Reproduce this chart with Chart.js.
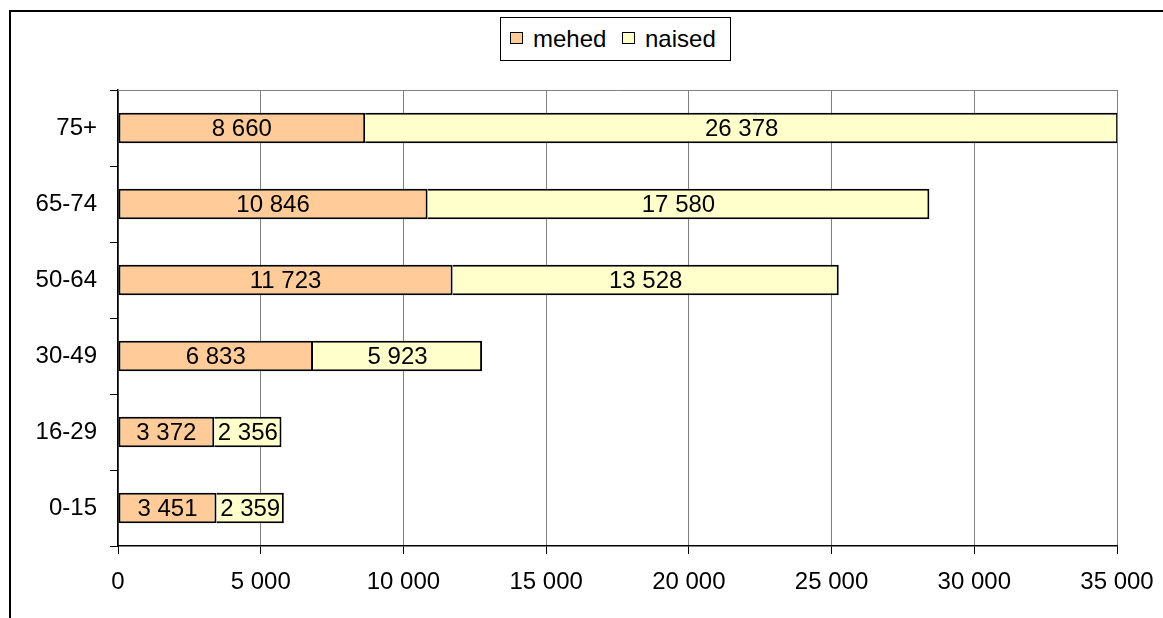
<!DOCTYPE html>
<html lang="et">
<head>
  <meta charset="UTF-8">
  <title>Vanuserühmad</title>
  <script src="https://cdn.jsdelivr.net/npm/chart.js"></script>
  <style>
    body {
      margin: 0;
      background: #fff;
      font-family: 'Liberation Sans', Arial, sans-serif;
      overflow: hidden;
    }
    .frame {
      position: absolute;
      left: 9px;
      top: 10px;
      width: 1200px;
      height: 700px;
      border: 2px solid #000;
    }
    .legend {
      position: absolute;
      left: 500px;
      top: 17px;
      width: 229px;
      height: 42px;
      border: 1px solid #000;
      background: #fff;
      font-size: 24px;
      color: #000;
      z-index: 2;
    }
    .legend .box {
      position: absolute;
      top: 14px;
      width: 11px;
      height: 10px;
      border: 1.5px solid #000;
    }
    .legend .txt { position: absolute; top: 7px; line-height: 28px; }
    #wrap { position: absolute; left: 0; top: 0; width: 1163px; height: 618px; }
  </style>
</head>
<body>
  <div class="frame"></div>
  <div class="legend">
    <div class="box" style="left:9px;background:#FFCC99"></div>
    <div class="txt" style="left:32px">mehed</div>
    <div class="box" style="left:121px;background:#FFFFCC"></div>
    <div class="txt" style="left:144px">naised</div>
  </div>
  <div id="wrap"><canvas id="chart" width="1163" height="618"></canvas></div>

  <script>
    // age groups, bottom to top
    const ageGroups = ['0-15', '16-29', '30-49', '50-64', '65-74', '75+'];
    const men = [3451, 3372, 6833, 11723, 10846, 8660];
    const women = [2359, 2356, 5923, 13528, 17580, 26378];
    const xMax = 35000;
    const xStep = 5000;

    function fmt(v) {
      return String(v).replace(/\B(?=(\d{3})+(?!\d))/g, ' ');
    }

    // numbers inside bars + gray top border of plot area
    const extras = {
      id: 'extras',
      afterDatasetsDraw(chart) {
        const ctx = chart.ctx;
        const a = chart.chartArea;
        ctx.save();
        ctx.strokeStyle = '#808080';
        ctx.lineWidth = 1;
        ctx.beginPath();
        ctx.moveTo(a.left, a.top + 0.5);
        ctx.lineTo(a.right, a.top + 0.5);
        ctx.stroke();

        ctx.font = '24px "Liberation Sans", Arial, sans-serif';
        ctx.fillStyle = '#000';
        ctx.textAlign = 'center';
        ctx.textBaseline = 'middle';
        chart.data.datasets.forEach((ds, i) => {
          chart.getDatasetMeta(i).data.forEach((bar, j) => {
            const left = Math.min(bar.x, bar.base);
            const right = Math.max(bar.x, bar.base);
            ctx.fillText(fmt(ds.data[j]), (left + right) / 2, bar.y + 1);
          });
        });
        ctx.restore();
      }
    };

    new Chart(document.getElementById('chart'), {
      type: 'bar',
      data: {
        labels: ageGroups,
        datasets: [
          { label: 'mehed', data: men, backgroundColor: '#FFCC99', borderColor: '#000', borderWidth: 2, borderSkipped: false },
          { label: 'naised', data: women, backgroundColor: '#FFFFCC', borderColor: '#000', borderWidth: 2, borderSkipped: 'left' }
        ]
      },
      options: {
        indexAxis: 'y',
        responsive: false,
        animation: false,
        layout: { padding: { top: 90, right: 46, left: 0, bottom: 0 } },
        plugins: { legend: { display: false }, tooltip: { enabled: false } },
        datasets: { bar: { barPercentage: 0.4, categoryPercentage: 1 } },
        scales: {
          x: {
            stacked: true,
            min: 0,
            max: xMax,
            ticks: {
              stepSize: xStep,
              callback: v => fmt(v),
              color: '#000',
              font: { size: 24, family: '"Liberation Sans", Arial, sans-serif' },
              padding: 14,
              maxRotation: 0
            },
            grid: { color: '#808080', lineWidth: 1, tickColor: '#000', tickLength: 8 },
            border: { color: '#000', width: 1.5 },
            afterFit: s => {
              s.height = 618 - 546;
              s.paddingLeft = 0;
              s.paddingRight = 0;
            }
          },
          y: {
            stacked: true,
            reverse: true,
            ticks: {
              color: '#000',
              font: { size: 24, family: '"Liberation Sans", Arial, sans-serif' },
              padding: 13
            },
            grid: { offset: true, drawOnChartArea: false, tickColor: '#000', tickLength: 8 },
            border: { color: '#000', width: 1.5 },
            afterFit: s => { s.width = 118; }
          }
        }
      },
      plugins: [extras]
    });
  </script>
</body>
</html>
